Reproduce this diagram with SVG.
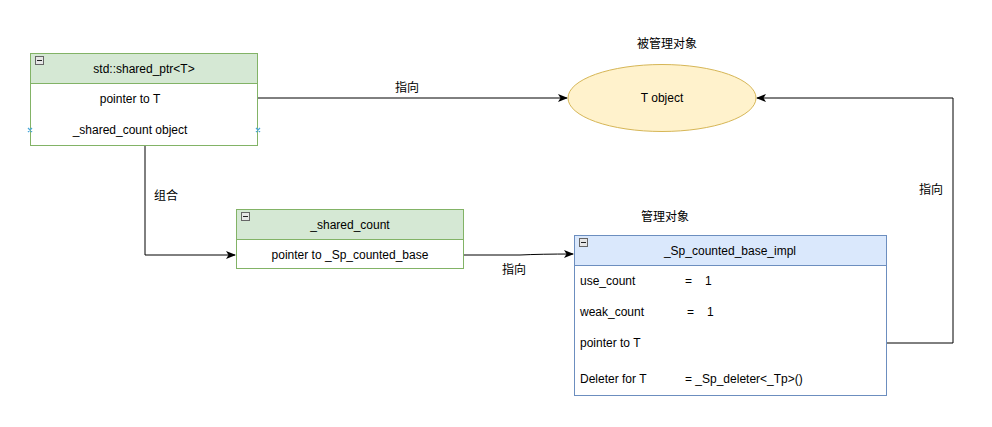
<svg xmlns="http://www.w3.org/2000/svg" width="992" height="427" viewBox="0 0 992 427">
<defs>
<style>
text{font-family:"Liberation Sans","Noto Sans CJK SC",Arial,sans-serif;font-size:12px;fill:#000}
.mid{text-anchor:middle}
.g-h{fill:#d5e8d4;stroke:#82b366;stroke-width:1}
.g-b{fill:#fff;stroke:#82b366;stroke-width:1}
.b-h{fill:#dae8fc;stroke:#6c8ebf;stroke-width:1}
.b-b{fill:#fff;stroke:#6c8ebf;stroke-width:1}
.minus{fill:#e6e6e6;stroke:#666;stroke-width:1}
.edge{fill:none;stroke:#000;stroke-width:1}
.pt{stroke:#4aa7d8;stroke-width:1.2}
</style>
<marker id="arr" viewBox="0 0 10 10" refX="9" refY="5" markerWidth="10" markerHeight="10" markerUnits="userSpaceOnUse" orient="auto">
<path d="M0,1 L10,5 L0,9 L2.5,5 Z" fill="#000"/>
</marker>
</defs>

<g id="connectors">
<path class="edge" d="M258,98 L567,98" marker-end="url(#arr)"/>
<text class="mid" x="407" y="92">指向</text>
<path class="edge" d="M145,146 L145,255 L235,255" marker-end="url(#arr)"/>
<text class="mid" x="166" y="200">组合</text>
<path class="edge" d="M463,255 L520,255 Q540,254 573,254" marker-end="url(#arr)"/>
<text class="mid" x="514" y="274">指向</text>
<path class="edge" d="M887,343 L953,343 L953,98 L757,98" marker-end="url(#arr)"/>
<text class="mid" x="931" y="194">指向</text>
</g>

<g id="shared_ptr">
<rect class="g-b" x="30.5" y="53.5" width="227" height="92"/>
<rect class="g-h" x="30.5" y="53.5" width="227" height="30"/>
<rect class="minus" x="35.5" y="56.5" width="8" height="8"/>
<line x1="37" y1="60.5" x2="42" y2="60.5" stroke="#222"/>
<text class="mid" x="144" y="73">std::shared_ptr&lt;T&gt;</text>
<text class="mid" x="130" y="103">pointer to T</text>
<text class="mid" x="130" y="134">_shared_count object</text>
<path class="pt" d="M28,128 L32,132 M32,128 L28,132 M256,128 L260,132 M260,128 L256,132"/>
</g>

<g id="shared_count">
<rect class="g-b" x="236.5" y="209.5" width="227" height="59"/>
<rect class="g-h" x="236.5" y="209.5" width="227" height="30"/>
<rect class="minus" x="241.5" y="212.5" width="8" height="8"/>
<line x1="243" y1="216.5" x2="248" y2="216.5" stroke="#222"/>
<text class="mid" x="350" y="229">_shared_count</text>
<text class="mid" x="350" y="259">pointer to _Sp_counted_base</text>
</g>

<g id="sp_counted_base_impl">
<text class="mid" x="665" y="221">管理对象</text>
<rect class="b-b" x="574.5" y="235.5" width="312" height="160"/>
<rect class="b-h" x="574.5" y="235.5" width="312" height="30"/>
<rect class="minus" x="579.5" y="238.5" width="8" height="8"/>
<line x1="581" y1="242.5" x2="586" y2="242.5" stroke="#222"/>
<text class="mid" x="730" y="255">_Sp_counted_base_impl</text>
<text x="580" y="285">use_count</text>
<text x="685" y="285">=</text>
<text x="705" y="285">1</text>
<text x="580" y="316">weak_count</text>
<text x="687" y="316">=</text>
<text x="707" y="316">1</text>
<text x="580" y="347">pointer to T</text>
<text x="580" y="383">Deleter for T</text>
<text x="685" y="383">=  _Sp_deleter&lt;_Tp&gt;()</text>
</g>

<g id="t_object">
<text class="mid" x="667" y="48">被管理对象</text>
<ellipse cx="662" cy="98" rx="94" ry="33.5" fill="#fff2cc" stroke="#d6b656"/>
<text class="mid" x="662" y="102">T object</text>
</g>
</svg>
